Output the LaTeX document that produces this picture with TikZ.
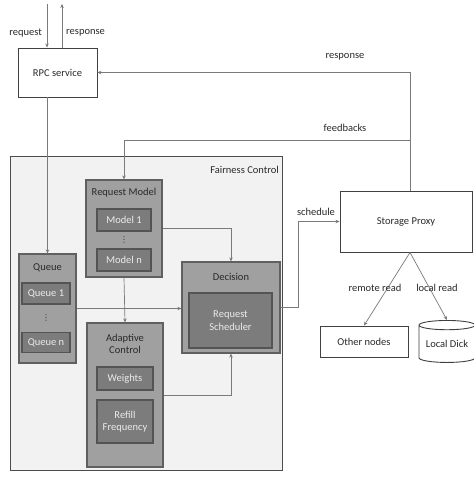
\documentclass[tikz,border=0pt]{standalone}
\usepackage{fontspec}
\setmainfont{Carlito}
\newfontfamily\dotsfont{DejaVu Sans}
\usetikzlibrary{arrows.meta,shapes.geometric}
\definecolor{linegray}{HTML}{7A7A7A}
\definecolor{fairfill}{HTML}{F2F2F2}
\definecolor{midfill}{HTML}{A0A0A0}
\definecolor{midborder}{HTML}{606060}
\definecolor{innerfill}{HTML}{7C7C7C}
\definecolor{innerborder}{HTML}{545454}
\definecolor{txtdark}{HTML}{2A2A2A}
\begin{document}
\begin{tikzpicture}[x=1pt,y=-1pt,
  font=\fontsize{10.5}{12.5}\selectfont,
  whitebox/.style={draw=black!75,line width=0.9pt,fill=white,text=txtdark,inner sep=0pt},
  fairbox/.style={draw=black!70,line width=0.9pt,fill=fairfill,inner sep=0pt},
  midbox/.style={draw=midborder,line width=1.2pt,fill=midfill,inner sep=0pt},
  innerbox/.style={draw=innerborder,line width=1.2pt,fill=innerfill,text=white!92!black,inner sep=0pt,align=center},
  titletext/.style={text=txtdark,inner sep=0pt,align=center},
  vdotstext/.style={text=txtdark,inner sep=0pt,font=\dotsfont\fontsize{8}{8}\selectfont},
  lbl/.style={text=txtdark,inner sep=0pt},
  conn/.style={draw=linegray,line width=0.7pt,-{Stealth[length=4pt,width=3.5pt]}},
  plain/.style={draw=linegray,line width=0.7pt}
]
\useasboundingbox[fill=white] (0,0) rectangle (474,480);

% RPC service
\node[whitebox,minimum width=79pt,minimum height=49pt] (rpc) at (57.5,72.5) {RPC service};
\coordinate (reqtop) at (47,4);
\coordinate (restop) at (62,4);
\draw[conn] (reqtop) -- (reqtop |- rpc.north);
\draw[conn] (restop |- rpc.north) -- (restop);
\node[lbl,anchor=east] (reqlbl) at (42,33) {request};
\node[lbl,anchor=west] (reslbl) at (66,33) {response};

% Fairness control
\node[fairbox,minimum width=272pt,minimum height=314pt] (fair) at (146.5,313) {};
\node[lbl,anchor=east] (fairlbl) at (279,170) {Fairness Control};

% Request model
\node[midbox,minimum width=76pt,minimum height=97pt] (rm) at (124,228.5) {};
\node[titletext] (rmt) at (124,193) {Request Model};
\node[innerbox,minimum width=54pt,minimum height=22pt] (m1) at (124,220) {Model 1};
\node[vdotstext] (rmd) at (124,240) {⋮};
\node[innerbox,minimum width=54pt,minimum height=22pt] (mn) at (124,260) {Model n};

% Queue
\node[midbox,minimum width=57pt,minimum height=109pt] (queue) at (47.5,308.5) {};
\node[titletext] (qt) at (47.5,268) {Queue};
\node[innerbox,minimum width=48pt,minimum height=21pt] (q1) at (46,293.5) {Queue 1};
\node[vdotstext] (qd) at (46,318) {⋮};
\node[innerbox,minimum width=48pt,minimum height=20pt] (qn) at (46,342.5) {Queue n};

% Adaptive control
\node[midbox,minimum width=76pt,minimum height=144pt] (ac) at (125,395) {};
\node[titletext] (act) at (125,344) {Adaptive\\Control};
\node[innerbox,minimum width=56pt,minimum height=23pt] (wt) at (125,378.5) {Weights};
\node[innerbox,minimum width=56pt,minimum height=43pt] (rf) at (125,421.5) {Refill\\Frequency};

% Decision
\node[midbox,minimum width=98pt,minimum height=91pt] (dec) at (231,307.5) {};
\node[titletext] (dect) at (231,277) {Decision};
\node[innerbox,minimum width=83pt,minimum height=55pt] (rs) at (230.5,320.5) {Request\\Scheduler};

% Storage proxy and targets
\node[whitebox,minimum width=132pt,minimum height=61pt] (sp) at (406,221.5) {Storage Proxy};
\node[whitebox,minimum width=88pt,minimum height=31pt] (other) at (364,341.5) {Other nodes};
\node[draw=black!75,line width=0.9pt,fill=white,text=txtdark,cylinder,shape border rotate=90,aspect=0.22,minimum width=56pt,minimum height=42pt,inner sep=0pt] (disk) at (447,344) {Local Dick};

% connectors
\coordinate (spx) at (410,0);
\coordinate (fb) at (410,140);
\coordinate (sch) at (298,0);
\draw[conn] (queue.north |- rpc.south) -- (queue.north);
\draw[conn] (sp.north -| spx) |- (rpc.east);
\draw[conn] (fb) -| (rm.north);
\node[lbl] (resplbl) at (345,57) {response};
\node[lbl] (fblbl) at (345,128) {feedbacks};
\draw[conn] (queue.east) -- (queue.east -| dec.west);
\draw[conn] (rm.south) -- (ac.north);
\draw[conn] (rm.east) -| (dec.north);
\draw[conn] (ac.east) -| (dec.south);
\draw[conn] (dec.east) -- (dec.east -| sch) |- (sp.west);
\node[lbl] (schlbl) at (316,212) {schedule};
\draw[conn] (sp.south -| spx) -- (other.north);
\draw[conn] (sp.south -| spx) -- (disk.north);
\node[lbl] (rrlbl) at (375,288) {remote read};
\node[lbl] (lrlbl) at (437,288) {local read};
\end{tikzpicture}
\end{document}
